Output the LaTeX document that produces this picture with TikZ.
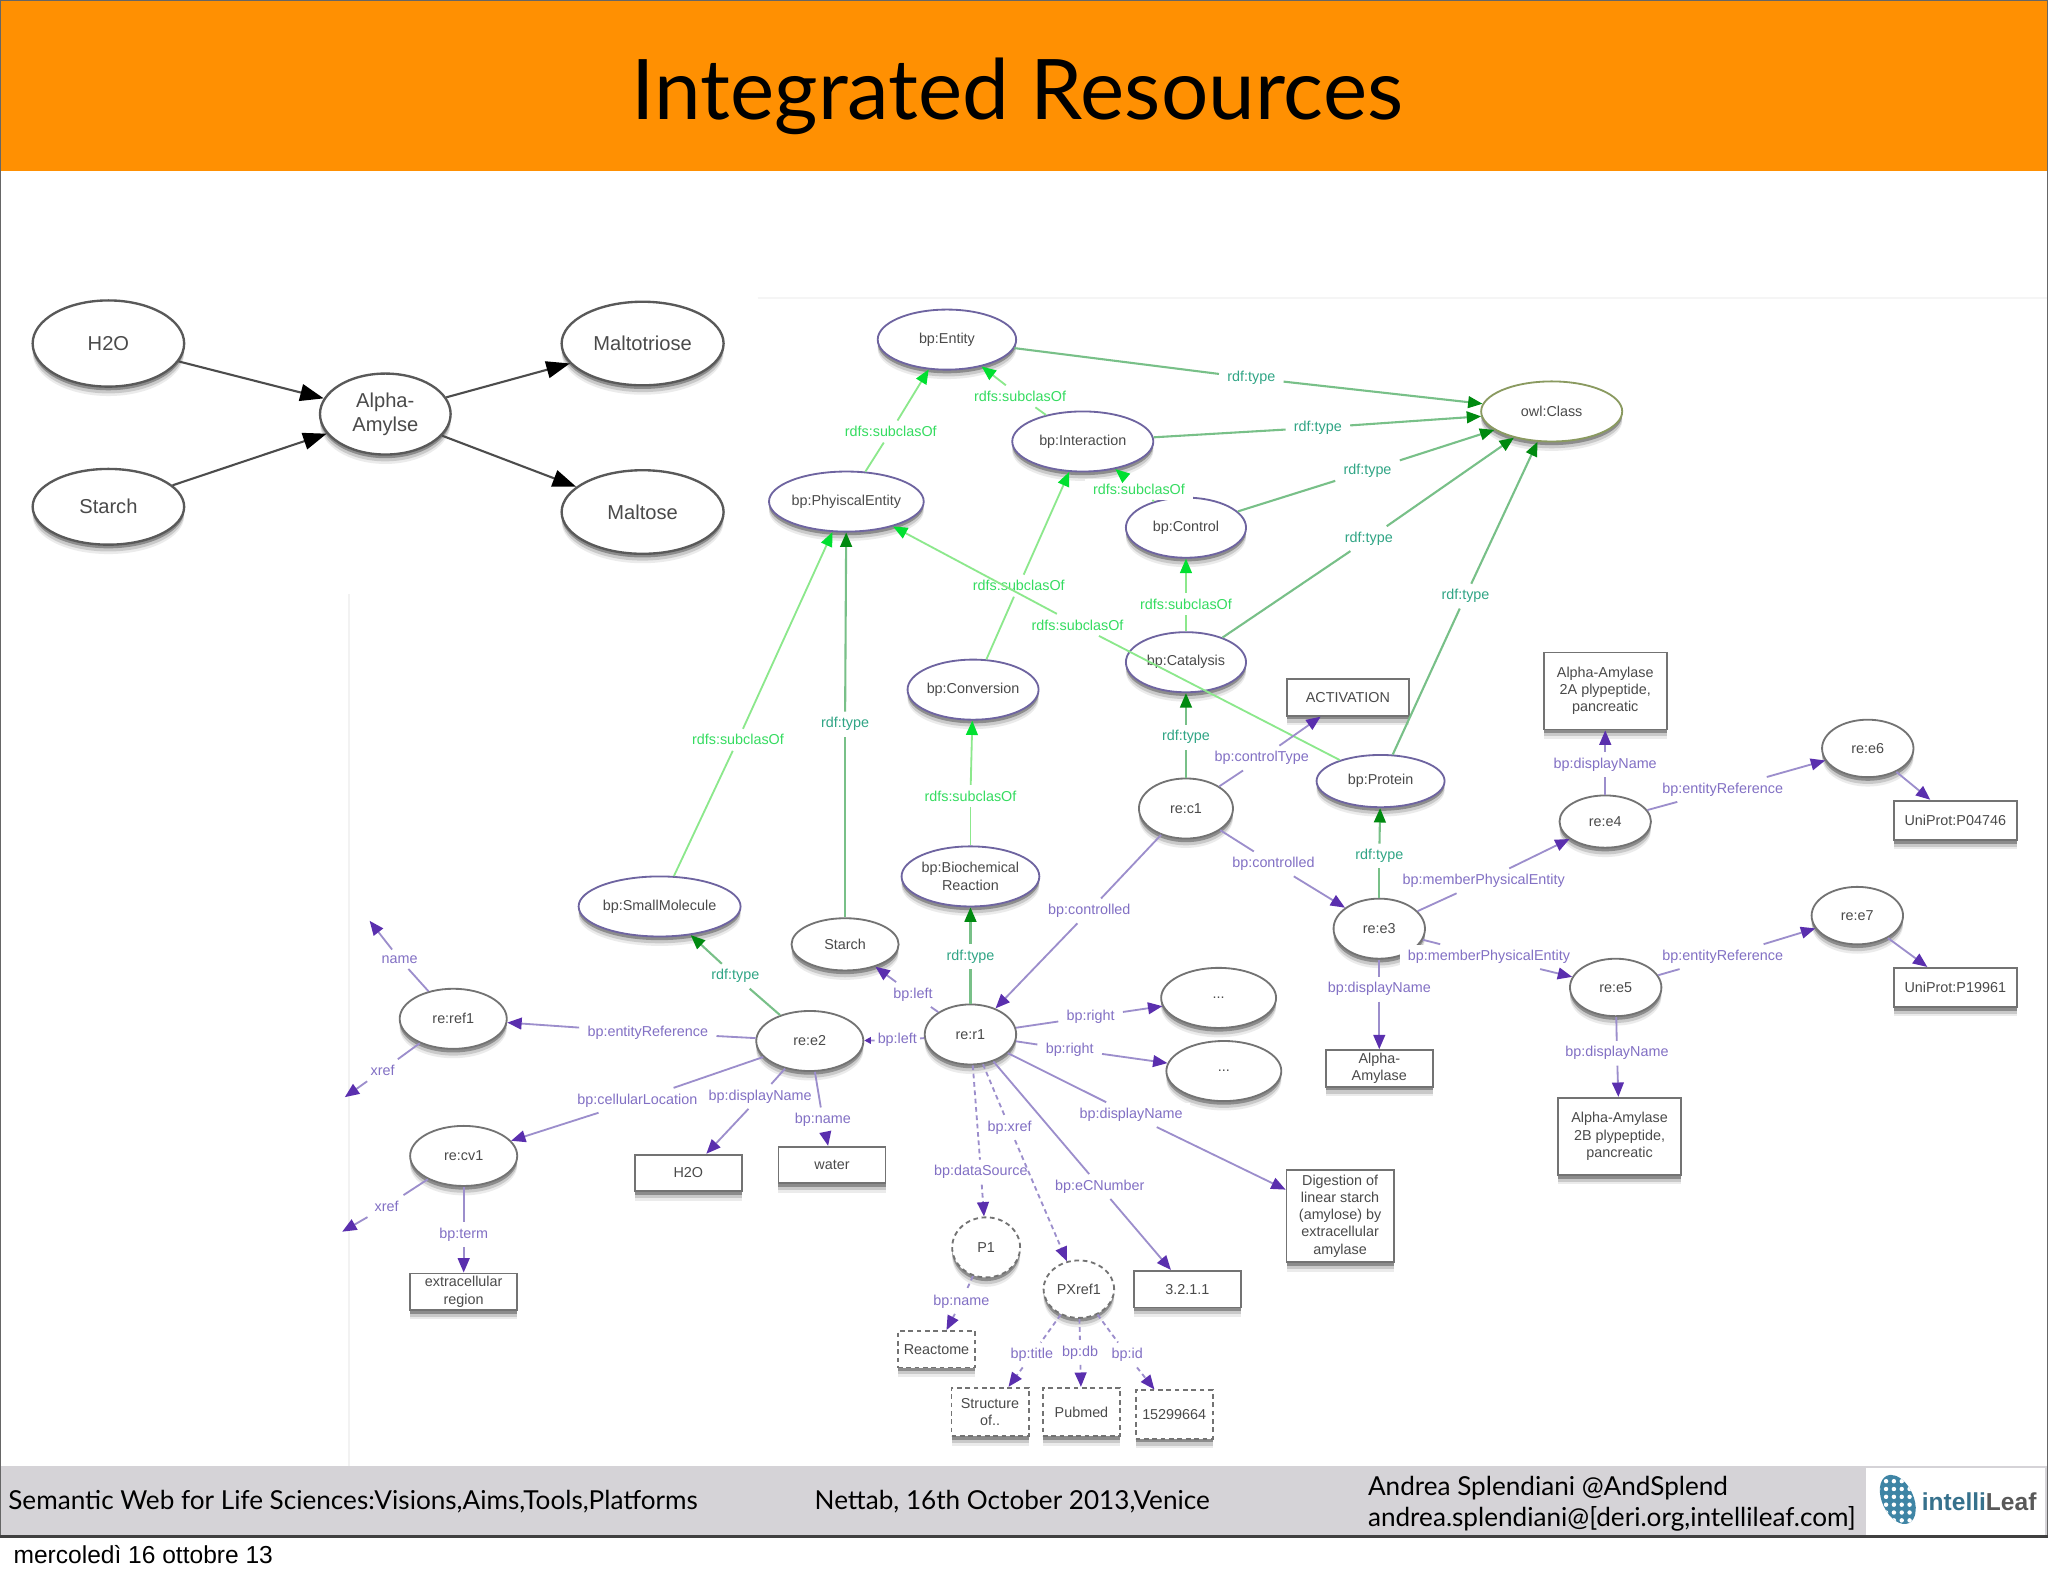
\documentclass[tikz,border=0pt]{standalone}
\usepackage{fontspec}
\setmainfont{Liberation Sans}
\newfontfamily\gillish{Lato}
\usetikzlibrary{arrows.meta,shapes.geometric,shadows}
\definecolor{barorange}{HTML}{FF9002}
\definecolor{footgray}{HTML}{D5D3D7}
\definecolor{subline}{HTML}{8CE88C}
\definecolor{subhead}{HTML}{00E030}
\definecolor{subtext}{HTML}{35DC60}
\definecolor{typeline}{HTML}{78C088}
\definecolor{typehead}{HTML}{008A10}
\definecolor{typetext}{HTML}{30A585}
\definecolor{purline}{HTML}{9C8ECC}
\definecolor{purhead}{HTML}{5A2FAE}
\definecolor{purtext}{HTML}{8270C4}
\definecolor{classedge}{HTML}{6E64A0}
\definecolor{owledge}{HTML}{8A9A60}
\definecolor{inkgray}{HTML}{4A4A4A}
\definecolor{leafblue}{HTML}{3F85A5}
\tikzset{
  softshadow/.style={
    drop shadow={shadow xshift=0pt,shadow yshift=-3.6pt,opacity=.08,fill=black},
    drop shadow={shadow xshift=0pt,shadow yshift=-2.6pt,opacity=.14,fill=black},
    drop shadow={shadow xshift=0pt,shadow yshift=-1.4pt,opacity=.30,fill=black}},
  box/.style={softshadow,fill=white,draw=gray!90!black,line width=.7pt,inner sep=0pt,align=center,
    text=inkgray,font=\fontsize{5.5}{6.6}\selectfont},
  el/.style n args={2}{box,ellipse,minimum width=#1 pt,minimum height=#2*.5pt},
  rc/.style n args={2}{box,rectangle,minimum width=#1*.5pt,minimum height=#2*.5pt},
  big/.style={font=\fontsize{7.7}{9.2}\selectfont,line width=.9pt,draw=gray!70!black},
  cls/.style={draw=classedge},
  owl/.style={draw=owledge},
  dsh/.style={dash pattern=on 1.8pt off 1.4pt},
  lab/.style={fill=white,inner xsep=3pt,inner ysep=2pt,yshift=-.7pt,font=\fontsize{5.5}{6.6}\selectfont},
  sublab/.style={lab,text=subtext},
  typelab/.style={lab,text=typetext},
  purlab/.style={lab,text=purtext},
  sube/.style={draw=subline,line width=.7pt},
  subhd/.style={-{Triangle[length=5.5pt,width=4.5pt,color=subhead]}},
  typee/.style={draw=typeline,line width=.8pt},
  typehd/.style={-{Triangle[length=5.5pt,width=4.5pt,color=typehead]}},
  pure/.style={draw=purline,line width=.7pt},
  purhd/.style={-{Triangle[length=5.5pt,width=4.5pt,color=purhead]}},
  tinyhd/.style={-{Triangle[length=2.5pt,width=2.5pt,color=purhead]}},
  blk/.style={draw=gray!60!black,line width=.8pt,-{Triangle[length=9pt,width=6.5pt,color=black]}},
  footer/.style={font=\gillish\fontsize{10}{12}\selectfont,text=black,inner sep=0pt}
}
\newcommand{\subE}[3]{\draw[sube] (#1) -- (#2); \draw[sube,subhd] (#2) -- (#3);}
\newcommand{\typE}[3]{\draw[typee] (#1) -- (#2); \draw[typee,typehd] (#2) -- (#3);}
\newcommand{\purE}[3]{\draw[pure] (#1) -- (#2); \draw[pure,purhd] (#2) -- (#3);}
\newcommand{\dasE}[3]{\draw[pure,dsh] (#1) -- (#2); \draw[pure,dsh,purhd] (#2) -- (#3);}
\begin{document}
\begin{tikzpicture}[x=.5pt,y=-.5pt]
\useasboundingbox (0,0) rectangle (1568,1206.6);
\fill[white] (0,0) rectangle (1568,1206.6);
% slide furniture
\fill[barorange] (0,0) rectangle (1568,131);
\fill[footgray] (0,1122) rectangle (1568,1176);
\draw[black!4,line width=.8pt] (580,228) -- (1568,228);
\draw[black!5,line width=.6pt] (267,455) -- (267,1122);
\draw[gray!80!black,line width=.6pt] (0,1176.5) -- (0,0) -- (1568,0) -- (1568,1176.5);
\draw[gray!50!black,line width=1pt] (0,1176.5) -- (1568,1176.5);
\node[font=\gillish\fontsize{32}{38}\selectfont,inner sep=0pt] (title) at (779,74) {Integrated Resources};
\node[footer,anchor=west] (f1) at (6,1150) {Semantic Web for Life Sciences:Visions,Aims,Tools,Platforms};
\node[footer,anchor=center] (f2) at (775,1150) {Nettab, 16th October 2013,Venice};
\node[footer,anchor=west] (f3) at (1047,1139) {Andrea Splendiani @AndSplend};
\node[footer,anchor=west] (f4) at (1047,1163) {andrea.splendiani@[deri.org,intellileaf.com]};
\node[anchor=west,inner sep=0pt,font=\fontsize{9.4}{10}\selectfont] (date) at (10,1190) {mercoledì 16 ottobre 13};
% logo
\fill[white] (1429,1124) rectangle (1566,1175);
\begin{scope}
\clip[rotate around={25:(1453,1148)}] (1453,1148) ellipse (12 and 20);
\fill[leafblue] (1435,1125) rectangle (1472,1170);
\foreach \a in {1438,1444,...,1470}{\foreach \b in {1128,1134,...,1170}{
  \fill[white] (\a,\b) circle (1.7);}}
\end{scope}
\node[anchor=west,inner sep=0pt,font=\bfseries\fontsize{9.4}{11}\selectfont] (logo) at (1471,1150)
  {\textcolor{leafblue!85!black}{intelli}\textcolor{gray!70!black}{Leaf}};
% left graph
\node[el={58}{66},big] (h2o) at (83,263) {H2O};
\node[el={58}{58},big] (sta) at (83,388) {Starch};
\node[el={50}{62},big] (amy) at (295,317) {Alpha-\\Amylse};
\node[el={62}{64},big] (mtr) at (492,263) {Maltotriose};
\node[el={62}{64},big] (mal) at (492,392) {Maltose};
\draw[blk] (h2o) -- (amy);
\draw[blk] (sta) -- (amy);
\draw[blk] (amy) -- (mtr);
\draw[blk] (amy) -- (mal);
% class ellipses
\node[el={53}{46},cls] (ent) at (725,260) {bp:Entity};
\node[el={54}{46},owl] (owl) at (1188,315) {owl:Class};
\node[el={54}{46},cls] (int) at (829,338) {bp:Interaction};
\node[el={58}{46},cls] (phy) at (648,384) {bp:PhyiscalEntity};
\node[el={46}{46},cls] (ctl) at (908,404) {bp:Control};
\node[el={46}{46},cls] (cat) at (908,507) {bp:Catalysis};
\node[el={50}{46},cls] (cnv) at (745,528) {bp:Conversion};
\node[el={49}{40},cls] (pro) at (1057,598) {bp:Protein};
\node[el={52}{46},cls] (bio) at (743,671) {bp:Biochemical\\Reaction};
\node[el={62}{46},cls] (smo) at (505,694) {bp:SmallMolecule};
% instance ellipses
\node[el={36}{46}] (c1) at (908,619) {re:c1};
\node[el={41}{40}] (st2) at (647,723) {Starch};
\node[el={35}{46}] (e3) at (1056,711) {re:e3};
\node[el={35}{40}] (e4) at (1229,629) {re:e4};
\node[el={35}{44}] (e6) at (1430,573) {re:e6};
\node[el={35}{44}] (e7) at (1422,701) {re:e7};
\node[el={35}{44}] (e5) at (1237,756) {re:e5};
\node[el={35}{46}] (r1) at (743,792) {re:r1};
\node[el={41}{46}] (e2) at (620,797) {re:e2};
\node[el={41}{46}] (ref) at (347,780) {re:ref1};
\node[el={41}{46}] (cv1) at (355,885) {re:cv1};
\node[el={44}{46}] (d1) at (933,764) {...};
\node[el={44}{46}] (d2) at (937,820) {...};
\node[el={26}{46},dsh] (p1) at (755,955) {P1};
\node[el={27}{44},dsh] (px) at (826,987) {PXref1};
% boxes
\node[rc={93}{28}] (act) at (1032,534) {ACTIVATION};
\node[rc={94}{59}] (a2a) at (1229,529) {Alpha-Amylase\\2A plypeptide,\\pancreatic};
\node[rc={94}{30}] (u1) at (1497,628) {UniProt:P04746};
\node[rc={94}{30}] (u2) at (1497,756) {UniProt:P19961};
\node[rc={82}{28}] (aa) at (1056,818) {Alpha-\\Amylase};
\node[rc={94}{59}] (a2b) at (1240,870) {Alpha-Amylase\\2B plypeptide,\\pancreatic};
\node[rc={82}{71}] (dig) at (1026,931) {Digestion of\\linear starch\\(amylose) by\\extracellular\\amylase};
\node[rc={82}{28}] (ec) at (909,987) {3.2.1.1};
\node[rc={82}{28}] (bh) at (527,898) {H2O};
\node[rc={82}{28}] (wat) at (637,892) {water};
\node[rc={82}{28}] (ext) at (355,989) {extracellular\\region};
\node[rc={59}{28},dsh] (rea) at (717,1033) {Reactome};
\node[rc={59}{37},dsh] (str) at (758,1081) {Structure\\of..};
\node[rc={59}{37},dsh] (pub) at (828,1081) {Pubmed};
\node[rc={59}{37},dsh] (pid) at (899,1083) {15299664};
% free ends
\coordinate (nameend) at (283,705);
\coordinate (xrefa) at (264,840);
\coordinate (xrefb) at (262,943);
% labels
\node[sublab] (l1) at (682,329) {rdfs:subclasOf};
\node[sublab] (l2) at (781,302) {rdfs:subclasOf};
\node[typelab] (l3) at (958,288) {rdf:type};
\node[typelab] (l4) at (1009,326) {rdf:type};
\node[typelab] (l5) at (1047,359) {rdf:type};
\node[typelab] (l6) at (1048,411) {rdf:type};
\node[typelab] (l7) at (1122,455) {rdf:type};
\node[sublab] (l8) at (872,373) {rdfs:subclasOf};
\node[sublab] (l9) at (780,447) {rdfs:subclasOf};
\node[sublab] (l10) at (908,461) {rdfs:subclasOf};
\node[sublab] (l11) at (825,477) {rdfs:subclasOf};
\node[sublab] (l12) at (565,565) {rdfs:subclasOf};
\node[typelab] (l13) at (647,553) {rdf:type};
\node[sublab] (l14) at (743,608) {rdfs:subclasOf};
\node[typelab] (l15) at (908,563) {rdf:type};
\node[typelab] (l16) at (1056,654) {rdf:type};
\node[typelab] (l17) at (743,731) {rdf:type};
\node[typelab] (l18) at (563,746) {rdf:type};
\node[purlab] (m1) at (966,579) {bp:controlType};
\node[purlab] (m2) at (975,660) {bp:controlled};
\node[purlab] (m3) at (834,696) {bp:controlled};
\node[purlab] (m4) at (1136,673) {bp:memberPhysicalEntity};
\node[purlab] (m5) at (1140,731) {bp:memberPhysicalEntity};
\node[purlab] (m6) at (1056,756) {bp:displayName};
\node[purlab] (m7) at (1229,584) {bp:displayName};
\node[purlab] (m8) at (1319,603) {bp:entityReference};
\node[purlab] (m9) at (1319,731) {bp:entityReference};
\node[purlab] (m10) at (1238,805) {bp:displayName};
\node[purlab] (m11) at (835,777) {bp:right};
\node[purlab] (m12) at (819,802) {bp:right};
\node[purlab] (m13) at (866,852) {bp:displayName};
\node[purlab] (m14) at (842,907) {bp:eCNumber};
\node[purlab] (m15) at (773,862) {bp:xref};
\node[purlab] (m16) at (751,896) {bp:dataSource};
\node[purlab,inner xsep=1pt] (m17) at (687,795) {bp:left};
\node[purlab,inner xsep=1pt] (m18) at (699,760) {bp:left};
\node[purlab] (m19) at (496,789) {bp:entityReference};
\node[purlab] (m20) at (488,841) {bp:cellularLocation};
\node[purlab] (m21) at (582,838) {bp:displayName};
\node[purlab] (m22) at (630,856) {bp:name};
\node[purlab] (m23) at (306,733) {name};
\node[purlab] (m24) at (293,818) {xref};
\node[purlab] (m25) at (296,922) {xref};
\node[purlab] (m26) at (355,944) {bp:term};
\node[purlab] (m27) at (736,995) {bp:name};
\node[purlab] (m28) at (790,1036) {bp:title};
\node[purlab,inner xsep=1pt] (m29) at (827,1034) {bp:db};
\node[purlab] (m30) at (863,1036) {bp:id};
% green edges
\subE{phy}{l1}{ent}
\subE{int}{l2}{ent}
\typE{ent}{l3}{owl}
\typE{int}{l4}{owl}
\typE{ctl}{l5}{owl}
\typE{cat}{l6}{owl}
\typE{pro}{l7}{owl}
\subE{ctl}{l8}{int}
\subE{cnv}{l9}{int}
\subE{cat}{l10}{ctl}
\subE{pro}{l11}{phy}
\subE{smo}{l12}{phy}
\typE{st2}{l13}{phy}
\subE{bio}{l14}{cnv}
\typE{c1}{l15}{cat}
\typE{e3}{l16}{pro}
\typE{r1}{l17}{bio}
\typE{e2}{l18}{smo}
% purple edges
\purE{c1}{m1}{act}
\purE{c1}{m2}{e3}
\purE{c1}{m3}{r1}
\purE{e3}{m4}{e4}
\purE{e3}{m5}{e5}
\purE{e3}{m6}{aa}
\purE{e4}{m7}{a2a}
\purE{e4}{m8}{e6}
\purE{e5}{m9}{e7}
\purE{e5}{m10}{a2b}
\draw[pure,purhd] (e6) -- (u1);
\draw[pure,purhd] (e7) -- (u2);
\purE{r1}{m11}{d1}
\purE{r1}{m12}{d2}
\purE{r1}{m13}{dig}
\purE{r1}{m14}{ec}
\dasE{r1}{m15}{px}
\dasE{r1}{m16}{p1}
\draw[pure,tinyhd] (m17) -- (e2);
\purE{r1}{m18}{st2}
\purE{e2}{m19}{ref}
\purE{e2}{m20}{cv1}
\purE{e2}{m21}{bh}
\purE{e2}{m22}{wat}
\purE{ref}{m23}{nameend}
\purE{ref}{m24}{xrefa}
\purE{cv1}{m25}{xrefb}
\purE{cv1}{m26}{ext}
\dasE{p1}{m27}{rea}
\dasE{px}{m28}{str}
\dasE{px}{m29}{pub}
\dasE{px}{m30}{pid}
\draw[pure] (r1) -- (m17);
\end{tikzpicture}
\end{document}
